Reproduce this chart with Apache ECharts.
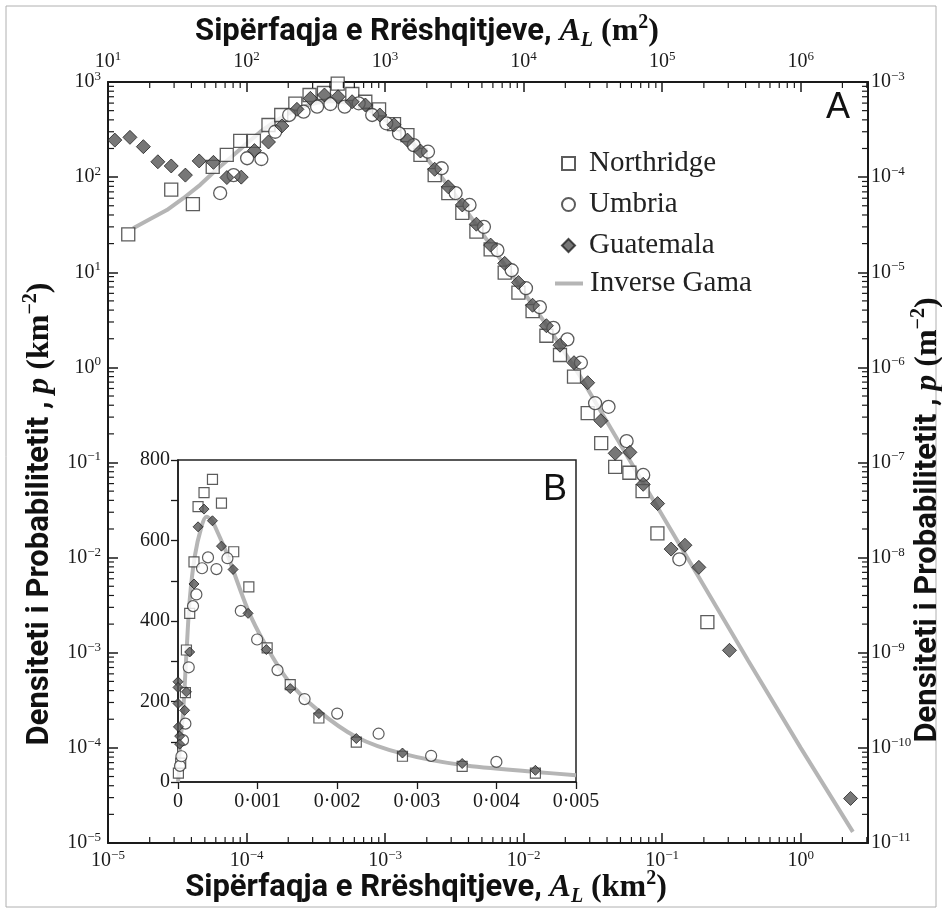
<!DOCTYPE html>
<html>
<head>
<meta charset="utf-8">
<script src="https://cdn.jsdelivr.net/npm/echarts@6/dist/echarts.min.js"></script>
<style>
  html, body { margin: 0; padding: 0; background: #fff; }
  #chart { width: 942px; height: 913px; }
</style>
</head>
<body>
<div id="chart"></div>
<script>
// ---- data (km^2, km^-2) ----
var markerNames = ['Northridge', 'Umbria', 'Guatemala'];
var curveName = 'Inverse Gama';

var northridgeMain = [
  [1.40e-5, 25], [2.86e-5, 74], [4.1e-5, 52], [5.7e-5, 128], [7.2e-5, 171], [9.0e-5, 240],
  [1.13e-4, 240], [1.44e-4, 353], [1.78e-4, 450], [2.25e-4, 592], [2.85e-4, 730], [3.62e-4, 766],
  [4.55e-4, 960], [5.8e-4, 748], [7.2e-4, 620], [9.05e-4, 515], [1.16e-3, 360], [1.45e-3, 277],
  [1.80e-3, 171], [2.28e-3, 105], [2.86e-3, 68], [3.61e-3, 42], [4.56e-3, 26.7], [5.78e-3, 17.4],
  [7.30e-3, 9.9], [9.17e-3, 6.1], [1.16e-2, 3.9], [1.46e-2, 2.15], [1.83e-2, 1.35], [2.31e-2, 0.8],
  [2.90e-2, 0.33], [3.63e-2, 0.16], [4.58e-2, 0.09], [5.80e-2, 0.078], [7.22e-2, 0.05],
  [9.24e-2, 0.018], [0.212, 0.0021]
];
var umbriaMain = [
  [6.45e-5, 68], [8.06e-5, 105], [1.01e-4, 158], [1.28e-4, 155], [1.61e-4, 300], [2.03e-4, 450],
  [2.58e-4, 487], [3.23e-4, 550], [4.03e-4, 587], [5.11e-4, 550], [6.45e-4, 597], [8.07e-4, 450],
  [1.02e-3, 368], [1.26e-3, 289], [1.61e-3, 217], [2.04e-3, 185], [2.56e-3, 124], [3.23e-3, 68],
  [4.07e-3, 51], [5.17e-3, 30], [6.47e-3, 17.1], [8.2e-3, 10.5], [1.04e-2, 6.8], [1.31e-2, 4.3],
  [1.64e-2, 2.6], [2.07e-2, 1.97], [2.59e-2, 1.12], [3.28e-2, 0.42], [4.10e-2, 0.385],
  [5.54e-2, 0.168], [7.30e-2, 0.074], [0.133, 0.0096]
];
var guatemalaMain = [
  [1.12e-5, 245], [1.44e-5, 262], [1.80e-5, 209], [2.29e-5, 145], [2.86e-5, 131], [3.62e-5, 105],
  [4.55e-5, 148], [5.77e-5, 143], [7.21e-5, 99], [9.16e-5, 100], [1.14e-4, 190], [1.44e-4, 234],
  [1.80e-4, 345], [2.31e-4, 516], [2.89e-4, 673], [3.65e-4, 730], [4.58e-4, 700], [5.78e-4, 620],
  [7.21e-4, 573], [9.16e-4, 450], [1.16e-3, 355], [1.45e-3, 245], [1.80e-3, 188], [2.28e-3, 121],
  [2.86e-3, 79], [3.61e-3, 51], [4.56e-3, 32], [5.78e-3, 19.3], [7.30e-3, 12.4], [9.17e-3, 7.8],
  [1.16e-2, 4.5], [1.46e-2, 2.74], [1.83e-2, 1.71], [2.31e-2, 1.12], [2.90e-2, 0.69],
  [3.61e-2, 0.275], [4.58e-2, 0.125], [5.85e-2, 0.128], [7.30e-2, 0.059], [9.27e-2, 0.037],
  [0.116, 0.0123], [0.146, 0.0135], [0.184, 0.0079], [0.306, 0.00106], [2.29, 2.94e-5]
];
var inverseGamaMain = [
  [1.52e-5, 29], [2.0e-5, 36], [2.66e-5, 45], [3.5e-5, 60], [4.63e-5, 83], [6.0e-5, 118],
  [8.06e-5, 171], [1.0e-4, 225], [1.26e-4, 300], [1.6e-4, 385], [2.0e-4, 465], [2.5e-4, 545],
  [3.2e-4, 605], [4.0e-4, 630], [5.0e-4, 615], [6.3e-4, 570], [8.0e-4, 490], [1.0e-3, 400],
  [1.26e-3, 315], [1.6e-3, 225], [2.0e-3, 158], [2.5e-3, 104], [3.2e-3, 65], [4.0e-3, 41],
  [5.0e-3, 26], [6.3e-3, 16], [8.0e-3, 10], [1.0e-2, 6.2], [1.26e-2, 3.8], [1.6e-2, 2.3],
  [2.0e-2, 1.4], [2.5e-2, 0.85], [0.415, 8.4e-4], [1.0, 1.0e-4], [2.38, 1.31e-5]
];

// inset B (linear axes)
var northridgeInset = [
  [0.000005, 22], [0.000034, 47], [0.000093, 222], [0.000106, 328], [0.000147, 419],
  [0.000201, 547], [0.000252, 684], [0.000327, 719], [0.000433, 752], [0.000546, 693],
  [0.00070, 572], [0.00089, 485], [0.00112, 333], [0.00141, 242], [0.00177, 159],
  [0.00224, 99], [0.00282, 64], [0.00357, 39], [0.00449, 22]
];
var umbriaInset = [
  [0.000025, 40], [0.000043, 64], [0.000063, 104], [0.000093, 145], [0.000135, 285],
  [0.000189, 437], [0.000231, 466], [0.000302, 531], [0.000377, 558], [0.000483, 529],
  [0.000621, 556], [0.000789, 425], [0.000994, 354], [0.00125, 278], [0.00159, 206],
  [0.0020, 170], [0.00252, 120], [0.00318, 65], [0.0040, 50]
];
var guatemalaInset = [
  [0.0, 249], [0.0, 235], [0.0, 195], [0.000005, 137], [0.000021, 114], [0.000021, 94],
  [0.000084, 178], [0.000106, 224], [0.000147, 323], [0.000201, 492], [0.000252, 634],
  [0.000327, 678], [0.000433, 649], [0.000546, 586], [0.000692, 528], [0.00088, 419],
  [0.00111, 329], [0.00141, 232], [0.00177, 170], [0.00224, 108], [0.00282, 72],
  [0.00357, 46], [0.00449, 29]
];
var inverseGamaInset = [
  [0, 0], [0.00001, 22], [0.000021, 79], [0.000063, 170], [0.000106, 319], [0.000147, 452],
  [0.00021, 560], [0.000294, 634], [0.000357, 659], [0.00042, 651], [0.000503, 618],
  [0.000629, 560], [0.00088, 427], [0.00109, 344], [0.00138, 253], [0.00176, 178],
  [0.00224, 112], [0.00281, 71], [0.00357, 42], [0.00449, 25], [0.005, 17]
];

var minorMultipliers = [2, 3, 4, 5, 6, 7, 8, 9];

// ---- chart ----
var chart = echarts.init(document.getElementById('chart'));
var ink = '#1a1a1a';
var serif = "'Liberation Serif', 'Times New Roman', serif";
var sans = "Roboto, 'Liberation Sans', sans-serif";

function powLabel(v) {
  var e = Math.log(v) / Math.LN10;
  var r = Math.round(e);
  if (Math.abs(e - r) > 1e-6) return '';
  return '{b|10}{s|' + (r < 0 ? '\u2212' + (-r) : r) + '}';
}
var powRich = {
  b: { fontFamily: serif, fontSize: 20, lineHeight: 24, color: ink },
  s: { fontFamily: serif, fontSize: 13, lineHeight: 13, verticalAlign: 'top', color: ink }
};

function logAxis(pos, min, max, margin) {
  return {
    type: 'log', logBase: 10, gridIndex: 0, position: pos, min: min, max: max, interval: 1,
    axisLine: { show: true, onZero: false, lineStyle: { color: ink, width: 2 } },
    axisTick: { show: true, inside: true, length: 10, lineStyle: { color: ink, width: 1.5 } },
    axisLabel: { show: true, margin: margin, formatter: powLabel, rich: powRich },
    splitLine: { show: false }
  };
}

var insetLabel = { fontFamily: serif, fontSize: 20, color: ink };
var legendText = { fontFamily: serif, fontSize: 29, lineHeight: 28, color: '#222' };

var option = {
  animation: false,
  backgroundColor: '#fff',
  grid: [
    { left: 108, top: 82, width: 760, height: 761, show: false },
    { left: 178, top: 460, width: 398, height: 322, show: true, backgroundColor: '#fff',
      borderColor: '#222', borderWidth: 1.5, z: 3 }
  ],
  xAxis: [
    logAxis('bottom', 1e-5, 3.06, 6),
    logAxis('top', 10, 3.06e6, 8),
    {
      type: 'value', gridIndex: 1, min: 0, max: 0.005, interval: 0.001, z: 4,
      axisLine: { onZero: false, lineStyle: { color: ink, width: 1.5 } },
      axisTick: { inside: false, length: 7, lineStyle: { color: ink, width: 1.3 } },
      axisLabel: Object.assign({ margin: 10, formatter: function (v) {
        return v === 0 ? '0' : v.toFixed(3).replace('.', '\u00b7');
      } }, insetLabel),
      splitLine: { show: false }
    }
  ],
  yAxis: [
    logAxis('left', 1e-5, 1e3, 7),
    logAxis('right', 1e-11, 1e-3, 3),
    {
      type: 'value', gridIndex: 1, min: 0, max: 800, interval: 100, z: 4,
      axisLine: { onZero: false, lineStyle: { color: ink, width: 1.5 } },
      axisTick: { inside: false, length: 7, lineStyle: { color: ink, width: 1.3 } },
      axisLabel: Object.assign({ margin: 8, formatter: function (v) {
        return v % 200 === 0 ? String(v) : '';
      } }, insetLabel),
      splitLine: { show: false }
    }
  ],
  legend: [
    { orient: 'vertical', left: 556, top: 144, itemWidth: 13, itemHeight: 13, itemGap: 12,
      selectedMode: false, data: markerNames,
      textStyle: Object.assign({ padding: [0, 0, 0, 9] }, legendText) },
    { orient: 'vertical', left: 550, top: 264, itemWidth: 28, itemHeight: 4,
      selectedMode: false, data: [{ name: curveName, icon: 'rect' }],
      textStyle: Object.assign({ padding: [0, 0, 0, 2] }, legendText) }
  ],
  series: [
    { name: curveName, type: 'line', xAxisIndex: 0, yAxisIndex: 0, data: inverseGamaMain,
      symbol: 'none', z: 1, lineStyle: { color: '#b5b5b5', width: 4 }, itemStyle: { color: '#b5b5b5' } },
    { name: 'Northridge', type: 'scatter', xAxisIndex: 0, yAxisIndex: 0, data: northridgeMain,
      symbol: 'rect', symbolSize: 13, z: 2,
      itemStyle: { color: '#fff', borderColor: '#333', borderWidth: 1.3 } },
    { name: 'Umbria', type: 'scatter', xAxisIndex: 0, yAxisIndex: 0, data: umbriaMain,
      symbol: 'circle', symbolSize: 13, z: 3,
      itemStyle: { color: '#fff', borderColor: '#333', borderWidth: 1.3 } },
    { name: 'Guatemala', type: 'scatter', xAxisIndex: 0, yAxisIndex: 0, data: guatemalaMain,
      symbol: 'diamond', symbolSize: 14, z: 4,
      itemStyle: { color: '#555', borderColor: '#222', borderWidth: 1 } },

    { name: curveName, type: 'line', xAxisIndex: 2, yAxisIndex: 2, data: inverseGamaInset,
      symbol: 'none', smooth: 0.3, z: 5, lineStyle: { color: '#b5b5b5', width: 4 },
      itemStyle: { color: '#b5b5b5' } },
    { name: 'Northridge', type: 'scatter', xAxisIndex: 2, yAxisIndex: 2, data: northridgeInset,
      symbol: 'rect', symbolSize: 10, z: 6,
      itemStyle: { color: '#fff', borderColor: '#333', borderWidth: 1.2 } },
    { name: 'Umbria', type: 'scatter', xAxisIndex: 2, yAxisIndex: 2, data: umbriaInset,
      symbol: 'circle', symbolSize: 11, z: 7,
      itemStyle: { color: '#fff', borderColor: '#333', borderWidth: 1.2 } },
    { name: 'Guatemala', type: 'scatter', xAxisIndex: 2, yAxisIndex: 2, data: guatemalaInset,
      symbol: 'diamond', symbolSize: 10, z: 8,
      itemStyle: { color: '#555', borderColor: '#222', borderWidth: 1 } }
  ]
};
chart.setOption(option);

// ---- titles, panel letters, log minor ticks ----
function titleRich() {
  return {
    t: { fontFamily: sans, fontWeight: 'bold', fontSize: 31, lineHeight: 38, fill: '#111' },
    a: { fontFamily: serif, fontWeight: 'bold', fontStyle: 'italic', fontSize: 32, lineHeight: 38, fill: '#111' },
    sub: { fontFamily: serif, fontWeight: 'bold', fontStyle: 'italic', fontSize: 20, lineHeight: 27, verticalAlign: 'bottom', fill: '#111' },
    u: { fontFamily: serif, fontWeight: 'bold', fontSize: 32, lineHeight: 38, fill: '#111' },
    sup: { fontFamily: serif, fontWeight: 'bold', fontSize: 20, lineHeight: 20, verticalAlign: 'top', fill: '#111' }
  };
}
function textEl(str, x, y, rot) {
  return {
    type: 'text', x: x, y: y, rotation: rot || 0, silent: true, z: 10,
    style: { text: str, rich: titleRich(), align: 'center', verticalAlign: 'middle',
      textAlign: 'center', textVerticalAlign: 'middle' }
  };
}

var gfx = [
  { type: 'rect', silent: true, z: 0, shape: { x: 6, y: 6, width: 930, height: 901 },
    style: { fill: 'none', stroke: '#b0b0b0', lineWidth: 1 } },
  textEl('{t|Sipërfaqja e Rrëshqitjeve, }{a|A}{sub|L}{u| (m}{sup|2}{u|)}', 427, 32),
  textEl('{t|Sipërfaqja e Rrëshqitjeve, }{a|A}{sub|L}{u| (km}{sup|2}{u|)}', 426, 888),
  textEl('{t|Densiteti i Probabilitetit , }{a|p}{u| (km}{sup|\u22122}{u|)}', 40, 514, Math.PI / 2),
  textEl('{t|Densiteti i Probabilitetit , }{a|p}{u| (m}{sup|\u22122}{u|)}', 928, 520, Math.PI / 2),
  { type: 'text', x: 838, y: 108, silent: true, z: 10,
    style: { text: 'A', fontFamily: "'Liberation Sans', Arial, sans-serif", fontSize: 36, fill: '#111',
      align: 'center', verticalAlign: 'middle', textAlign: 'center', textVerticalAlign: 'middle' } },
  { type: 'text', x: 555, y: 490, silent: true, z: 10,
    style: { text: 'B', fontFamily: "'Liberation Sans', Arial, sans-serif", fontSize: 36, fill: '#111',
      align: 'center', verticalAlign: 'middle', textAlign: 'center', textVerticalAlign: 'middle' } }
];

var gl = chart.convertToPixel({ xAxisIndex: 0 }, 1e-5);
var gr = chart.convertToPixel({ xAxisIndex: 0 }, 3.06);
var gb = chart.convertToPixel({ yAxisIndex: 0 }, 1e-5);
var gt = chart.convertToPixel({ yAxisIndex: 0 }, 1e3);
var minorLen = 6;
function tick(x1, y1, x2, y2) {
  gfx.push({ type: 'line', silent: true, z: 5, shape: { x1: x1, y1: y1, x2: x2, y2: y2 },
    style: { stroke: ink, lineWidth: 1.2 } });
}
for (var e = -5; e <= 0; e++) {
  minorMultipliers.forEach(function (m) {
    var v = m * Math.pow(10, e);
    if (v >= 3.06) return;
    var px = chart.convertToPixel({ xAxisIndex: 0 }, v);
    tick(px, gb, px, gb - minorLen);
    tick(px, gt, px, gt + minorLen);
  });
}
for (var k = -5; k <= 2; k++) {
  minorMultipliers.forEach(function (m) {
    var v = m * Math.pow(10, k);
    var py = chart.convertToPixel({ yAxisIndex: 0 }, v);
    tick(gl, py, gl + minorLen, py);
    tick(gr, py, gr - minorLen, py);
  });
}
chart.setOption({ graphic: gfx });
</script>
</body>
</html>
